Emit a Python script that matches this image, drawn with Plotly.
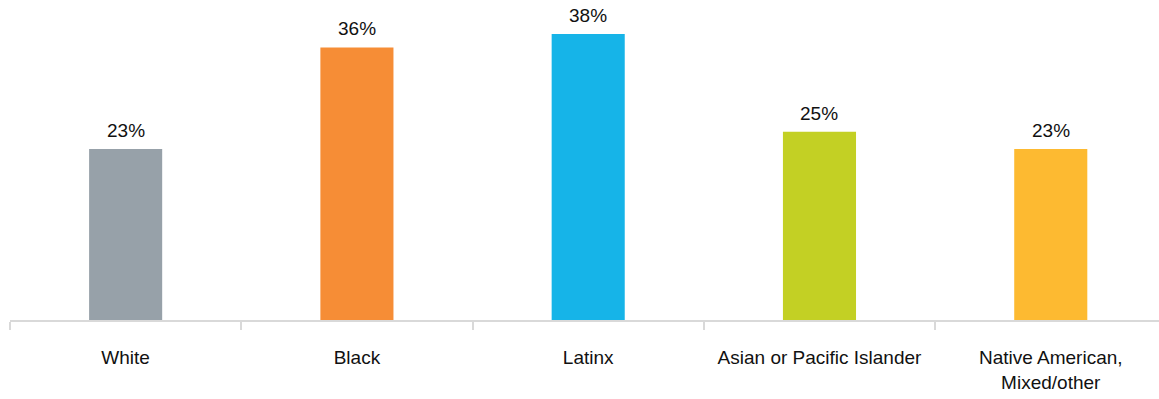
import plotly.graph_objects as go

categories = ["White", "Black", "Latinx", "Asian or Pacific Islander", "Native American,<br>Mixed/other"]
values = [22.7, 36.2, 38.0, 25.0, 22.7]
colors = ["#97A1A9", "#F68D36", "#16B4E8", "#C3D024", "#FDBA31"]

fig = go.Figure(go.Bar(
    x=categories, y=values,
    marker=dict(color=colors, line=dict(width=0)),
    width=0.316,
    hoverinfo="x+y",
))

for c, v in zip(categories, values):
    fig.add_annotation(
        x=c, y=v, text=f"{v:.0f}%", showarrow=False,
        xanchor="center", yanchor="bottom", yshift=6,
        font=dict(size=19, color="#111111", family="Liberation Sans"),
    )

fig.update_layout(
    width=1159, height=399,
    margin=dict(l=10, r=0, t=0, b=79),
    paper_bgcolor="white", plot_bgcolor="white",
    font=dict(family="Liberation Sans", size=19, color="#111111"),
    showlegend=False,
    xaxis=dict(
        range=[-0.5, 4.468],
        showline=True, linecolor="#D9D9D9", linewidth=2,
        tickson="boundaries", ticks="outside", ticklen=8, tickcolor="#D9D9D9", tickwidth=2,
        ticklabelstandoff=19,
        showgrid=False,
    ),
    yaxis=dict(range=[0, 42.5], visible=False, showgrid=False, zeroline=False),
)

fig.write_html("out.html")
